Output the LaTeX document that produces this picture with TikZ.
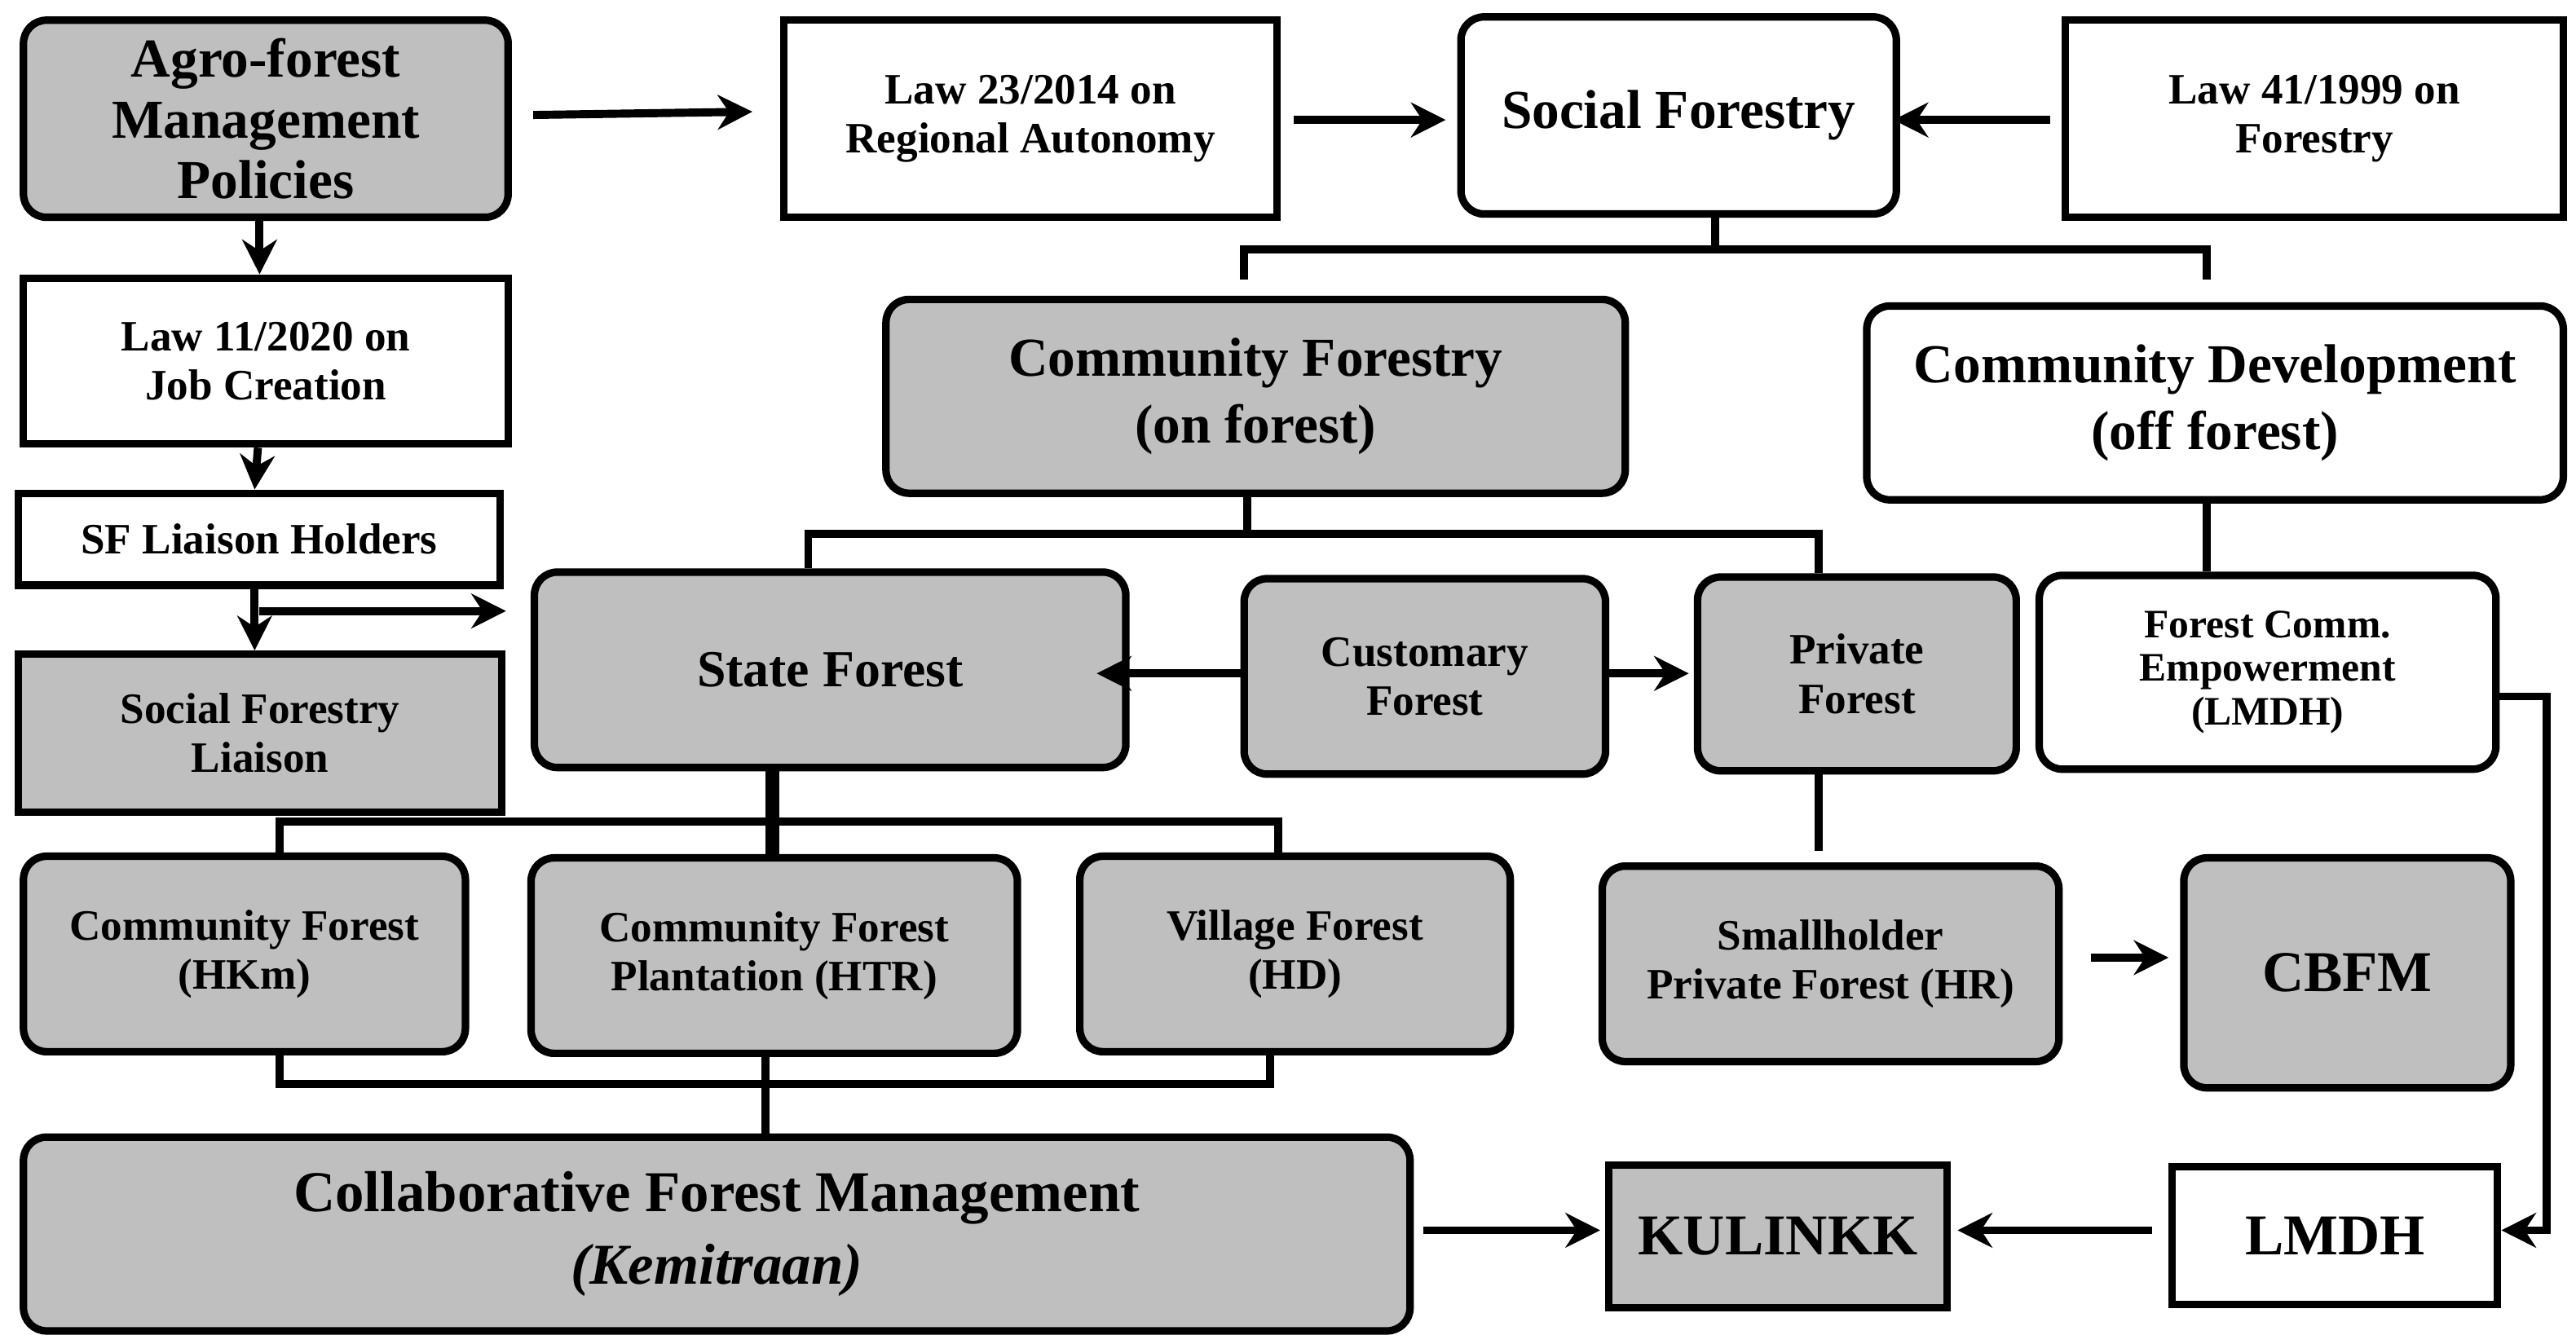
\documentclass[tikz,border=0pt]{standalone}
\usepackage{fontspec}
\setmainfont{Liberation Serif}
\usetikzlibrary{arrows.meta}
\begin{document}
\begin{tikzpicture}[x=0.01cm,y=-0.01cm,
 bx/.style={draw,line width=1.3pt,align=center,font=\bfseries\fontsize{7.5}{8.5}\selectfont},
 gr/.style={fill=black!25},
 rd/.style={rounded corners=4pt},
 ar/.style={line width=1.4pt,-{Stealth[length=6pt,width=6pt]}},
 ln/.style={line width=1.4pt},
 nw/.style={anchor=north west,inner sep=0pt}]
\useasboundingbox (0,0) rectangle (1568,818);
\def\N#1#2#3#4#5#6#7{\node[bx,nw,#6,minimum width={(#4-#2)*0.01cm},minimum height={(#5-#3)*0.01cm}] (#1) at (#2,#3) {#7};}
\N{agro}{12}{10}{307}{130}{gr,rd,font=\bfseries\fontsize{9.5}{10.5}\selectfont}{Agro-forest\\Management\\Policies}
\N{law23}{475}{10}{775}{130}{}{Law 23/2014 on\\Regional Autonomy}
\N{sf}{887}{8}{1152}{128}{rd,font=\bfseries\fontsize{9.5}{11}\selectfont}{Social Forestry}
\N{law41}{1255}{10}{1558}{130}{}{Law 41/1999 on\\Forestry}
\N{law11}{12}{167}{307}{268}{}{Law 11/2020 on\\Job Creation}
\N{sflh}{9}{298}{302}{354}{}{SF Liaison Holders}
\N{sfl}{9}{396}{303}{492}{gr}{Social Forestry\\Liaison}
\N{cf}{537}{180}{987}{298}{gr,rd,font=\bfseries\fontsize{9.5}{11.5}\selectfont}{Community Forestry\\(on forest)}
\N{cd}{1134}{184}{1558}{302}{rd,font=\bfseries\fontsize{9.5}{11.5}\selectfont}{Community Development\\(off forest)}
\N{state}{323}{346}{683}{465}{gr,rd,font=\bfseries\fontsize{9}{11}\selectfont}{State Forest}
\N{cust}{755}{350}{975}{469}{gr,rd}{Customary\\Forest}
\N{priv}{1031}{349}{1225}{467}{gr,rd}{Private\\Forest}
\N{fce}{1239}{348}{1517}{466}{rd,font=\bfseries\fontsize{7}{7.5}\selectfont}{Forest Comm.\\Empowerment\\(LMDH)}
\N{hkm}{12}{519}{281}{638}{gr,rd}{Community Forest\\(HKm)}
\N{htr}{321}{520}{617}{639}{gr,rd}{Community Forest\\Plantation (HTR)}
\N{hd}{655}{519}{917}{638}{gr,rd}{Village Forest\\(HD)}
\N{hr}{973}{525}{1251}{644}{gr,rd}{Smallholder\\Private Forest (HR)}
\N{cbfm}{1327}{520}{1526}{660}{gr,rd,font=\bfseries\fontsize{10}{12}\selectfont}{CBFM}
\N{cfm}{12}{690}{856}{808}{gr,rd,font=\bfseries\fontsize{10}{12.5}\selectfont}{Collaborative Forest Management\\\textit{(Kemitraan)}}
\N{kul}{977}{707}{1183}{794}{gr,font=\bfseries\fontsize{10}{12}\selectfont}{KULINKK}
\N{lmdh}{1320}{708}{1518}{792}{font=\bfseries\fontsize{10}{12}\selectfont}{LMDH}
% arrows
\draw[ar] ([xshift=0.13cm]agro.east|-0,70) -- ([xshift=-0.17cm]law23.west|-0,68);
\draw[ar] ([xshift=0.08cm]law23.east|-0,73) -- ([xshift=-0.07cm]sf.west|-0,73);
\draw[ar] ([xshift=-0.07cm]law41.west|-0,73) -- ([xshift=-0.04cm]sf.east|-0,73);
\draw[ar] (agro.south-|158,0) -- (law11.north-|158,0);
\draw[ar] (law11.south-|157,0) -- (sflh.north-|155,0);
\draw[ar] (sflh.south-|155,0) -- (sfl.north-|155,0);
\coordinate (j1) at (158,372);
\draw[ar] (j1) -- ([xshift=-0.15cm]state.west|-j1);
% brackets
\draw[ln] (sf.south-|1044,0) -- (1044,152);
\draw[ln] (757,170) -- (757,152) -- (1343,152) -- (1343,170);
\draw[ln] (cd.south-|1343,0) -- (fce.north-|1343,0);
\draw[ln] (cf.south-|759,0) -- (759,325) -- (492,325) -- (state.north-|492,0);
\draw[ln] (759,325) -- (1107,325) -- (priv.north-|1107,0);
\draw[ar] (cust.west|-0,410) -- ([xshift=-0.2cm]state.east|-0,410);
\draw[ar] (cust.east|-0,410) -- ([xshift=-0.03cm]priv.west|-0,410);
\draw[ln] (priv.south-|1107,0) -- ([yshift=0.07cm]hr.north-|1107,0);
\draw[line width=2.4pt] (state.south-|470,0) -- (htr.north-|470,0);
\draw[ln] (hkm.north-|170,0) -- (170,500) -- (778,500) -- (hd.north-|778,0);
\draw[ln] (hkm.south-|170,0) -- (170,660) -- (773,660) -- (hd.south-|773,0);
\draw[ln] (htr.south-|466,0) -- (cfm.north-|466,0);
\draw[ar] ([xshift=0.17cm]hr.east|-0,583) -- ([xshift=-0.07cm]cbfm.west|-0,583);
\draw[ar] ([xshift=0.06cm]cfm.east|-0,749) -- ([xshift=-0.03cm]kul.west|-0,749);
\draw[ar] ([xshift=-0.1cm]lmdh.west|-0,749) -- ([xshift=0.04cm]kul.east|-0,749);
\draw[ar] (fce.east|-0,424) -- (1550,424) -- (1550,749) -- (lmdh.east|-0,749);
\end{tikzpicture}
\end{document}
